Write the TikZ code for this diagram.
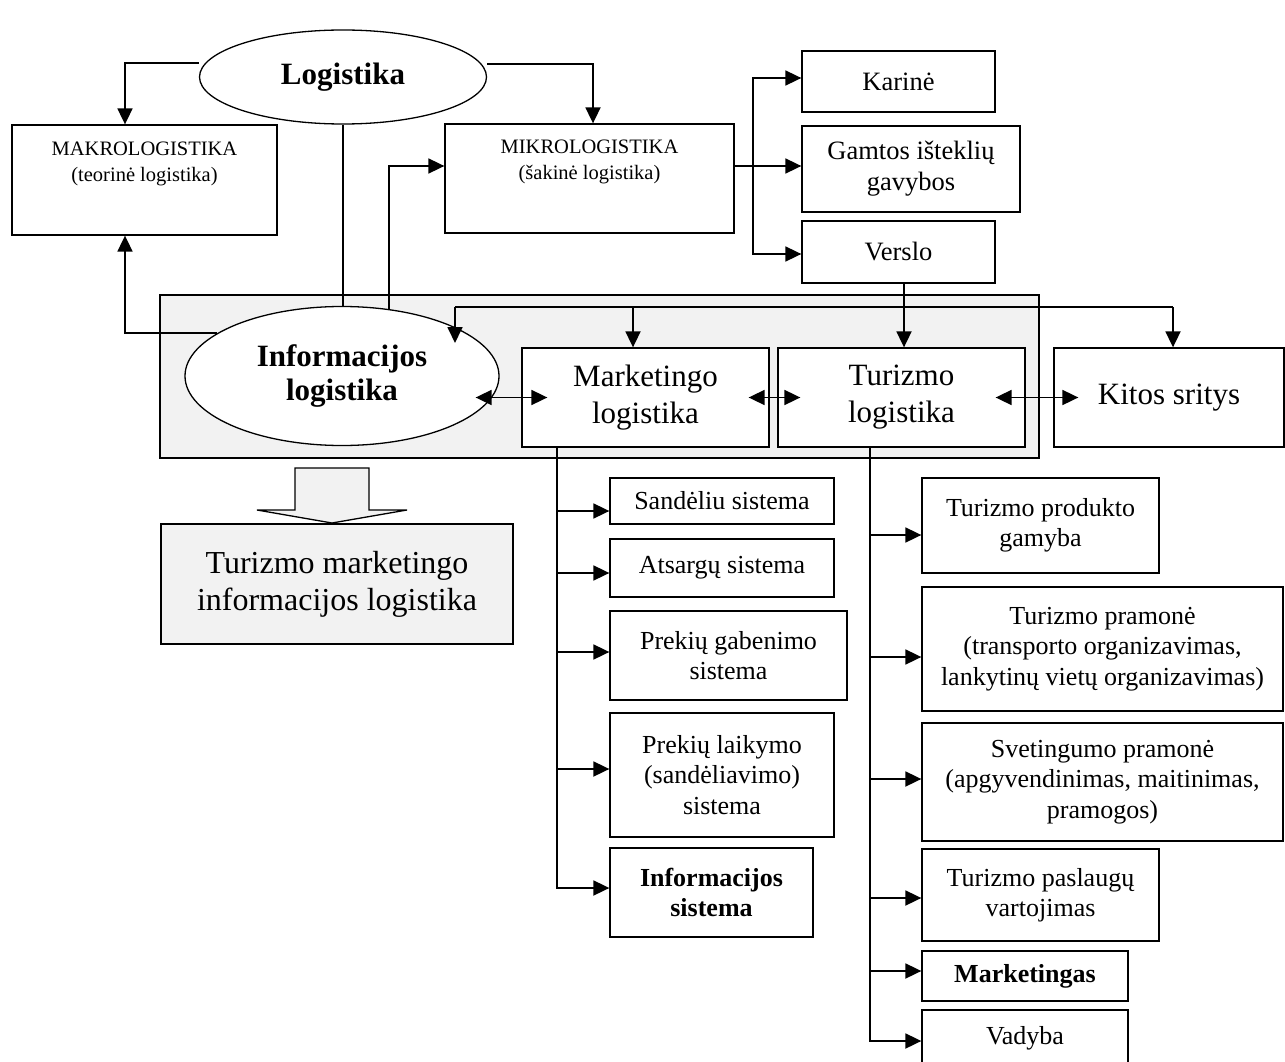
\documentclass[tikz,border=0pt]{standalone}
\usepackage{fontspec}
\setmainfont{Liberation Serif}
\usetikzlibrary{arrows.meta,shapes.geometric,calc}
\begin{document}
\begin{tikzpicture}[x=1pt,y=-1pt,
  box/.style={draw,line width=1.3pt,fill=white,inner sep=0pt,align=center},
  oval/.style={draw,ellipse,line width=1.3pt,fill=white,inner sep=0pt,align=center},
  conn/.style={line width=1.8pt},
  arr/.style={conn,-{Triangle[length=16pt,width=15pt]}},
  darr/.style={conn,{Triangle[length=16pt,width=15pt]}-{Triangle[length=16pt,width=15pt]}},
  fbig/.style={font=\fontsize{31}{37}\selectfont},
  fbigb/.style={font=\fontsize{31}{34}\selectfont\bfseries},
  fmid/.style={font=\fontsize{26}{30.5}\selectfont},
  fmidb/.style={font=\fontsize{26}{30.5}\selectfont\bfseries},
  fsmall/.style={font=\fontsize{20.5}{26}\selectfont},
  shade/.style={fill=gray!10}
]
\useasboundingbox (0,0) rectangle (1285,1062);

% grey panel holding the logistics areas
\node[draw,shade,line width=1.5pt,inner sep=0pt,minimum width=879pt,minimum height=163pt] (panel) at (599.5,376.5) {};

% upper level
\node[oval,fbigb,minimum width=287pt,minimum height=94pt] (logi) at (343,77) {Logistika};
\node[box,fsmall,minimum width=265pt,minimum height=110pt] (makro) at (144.5,180)
  {\parbox[c][100pt][t]{255pt}{\vspace*{12pt}\centering MAKROLOGISTIKA\\(teorinė logistika)}};
\node[box,fsmall,minimum width=289pt,minimum height=109pt] (mikro) at (589.5,178.5)
  {\parbox[c][99pt][t]{279pt}{\vspace*{11pt}\centering MIKROLOGISTIKA\\(šakinė logistika)}};
\node[box,font=\fontsize{26.5}{31}\selectfont,minimum width=193pt,minimum height=61pt] (karine) at (898.5,81.5) {Karinė};
\node[box,font=\fontsize{26.5}{31}\selectfont,minimum width=218pt,minimum height=86pt] (gamtos) at (911,169) {Gamtos išteklių\\gavybos};
\node[box,font=\fontsize{26.5}{31}\selectfont,minimum width=193pt,minimum height=62pt] (verslo) at (898.5,252) {Verslo};

% logistics areas
\node[oval,fbigb,minimum width=314pt,minimum height=139pt] (info) at (342,376) {Informacijos\\logistika};
\node[box,fbig,minimum width=247pt,minimum height=99pt] (marketingo) at (645.5,397.5) {Marketingo\\logistika};
\node[box,fbig,minimum width=247pt,minimum height=99pt] (turizmo) at (901.5,397.5) {Turizmo\\logistika};
\node[box,fbig,minimum width=230pt,minimum height=99pt] (kitos) at (1169,397.5) {Kitos sritys};

% hollow block arrow and result
\draw[line width=1.3pt,shade] (295,468) -- (369,468) -- (369,510) -- (407,510) -- (332,523)
  -- (257,510) -- (295,510) -- cycle;
\node[box,shade,font=\fontsize{32}{37}\selectfont,minimum width=352pt,minimum height=120pt] (tmil) at (337,584)
  {Turizmo marketingo\\informacijos logistika};

% marketing subsystems
\node[box,fmid,minimum width=224pt,minimum height=46pt] (sand) at (722,501) {Sandėliu sistema};
\node[box,fmid,minimum width=224pt,minimum height=58pt] (ats) at (722,568) {Atsargų sistema};
\node[box,fmid,minimum width=237pt,minimum height=89pt] (preg) at (728.5,655.5) {Prekių gabenimo\\sistema};
\node[box,fmid,minimum width=224pt,minimum height=124pt] (prel) at (722,775) {Prekių laikymo\\(sandėliavimo)\\sistema};
\node[box,fmidb,minimum width=203pt,minimum height=89pt] (infs) at (711.5,892.5) {Informacijos\\sistema};

% tourism subsystems
\node[box,fmid,minimum width=237pt,minimum height=95pt] (tpg) at (1040.5,525.5) {Turizmo produkto\\gamyba};
\node[box,fmid,minimum width=361pt,minimum height=124pt] (tpr) at (1102.5,649) {Turizmo pramonė\\(transporto organizavimas,\\lankytinų vietų organizavimas)};
\node[box,fmid,minimum width=361pt,minimum height=118pt] (svet) at (1102.5,782) {Svetingumo pramonė\\(apgyvendinimas, maitinimas,\\pramogos)};
\node[box,fmid,minimum width=237pt,minimum height=92pt] (tpv) at (1040.5,895) {Turizmo paslaugų\\vartojimas};
\node[box,fmidb,minimum width=206pt,minimum height=50pt] (mark) at (1025,976) {Marketingas};
\node[box,fmid,minimum width=206pt,minimum height=56pt] (vad) at (1025,1038) {Vadyba};

% connectors of the upper level
\draw[arr] ([yshift=14pt]logi.west) -| ([xshift=-19.5pt]makro.north);
\draw[arr] ([yshift=13pt]logi.east) -| ([xshift=3.5pt]mikro.north);
\draw[conn] (logi.south) -- (logi.south |- info.north);
\draw[arr] (info.161) -| ([xshift=-19.5pt]makro.south);
\draw[arr] (info.55) |- ([yshift=12.5pt]mikro.west);

\coordinate (fan) at (753,166);
\draw[conn] ([yshift=12.5pt]mikro.east) -- (fan);
\draw[arr] (fan) -- (fan -| gamtos.west);
\draw[arr] (fan) |- ([yshift=3.5pt]karine.west);
\draw[arr] (fan) |- ([yshift=-2pt]verslo.west);

% distribution line over the areas
\coordinate (busL) at (455,307);
\coordinate (busM) at (633,307);
\coordinate (busV) at (904,307);
\coordinate (busR) at (1173,307);
\draw[conn] (busL) -- (busR);
\draw[arr] (verslo.south -| busV) -- (turizmo.north -| busV);
\draw[arr] (busL) -- ++(0,36);
\draw[arr] (busM) -- (busM |- marketingo.north);
\draw[arr] (busR) -- (busR |- kitos.north);

% links between the areas
\draw[darr,shorten <=-24pt,shorten >=-26pt] (info.east |- marketingo.west) -- (marketingo.west);
\draw[darr,shorten <=-21pt,shorten >=-23pt] (marketingo.east) -- (turizmo.west);
\draw[darr,shorten <=-30pt,shorten >=-25pt] (turizmo.east) -- (kitos.west);

% marketing branch
\coordinate (mtop) at ([xshift=-88.5pt]marketingo.south);
\coordinate (m1) at ([yshift=-10pt]sand.west);
\coordinate (m2) at ([yshift=-5pt]ats.west);
\coordinate (m3) at ([yshift=3.5pt]preg.west);
\coordinate (m4) at ([yshift=6pt]prel.west);
\coordinate (m5) at ([yshift=4.5pt]infs.west);
\draw[arr] (mtop) |- (m5);
\foreach \t in {m1,m2,m3,m4} \draw[arr] (mtop |- \t) -- (\t);

% tourism branch
\coordinate (ttop) at ([xshift=-31.5pt]turizmo.south);
\coordinate (t1) at ([yshift=-9.5pt]tpg.west);
\coordinate (t2) at ([yshift=-8pt]tpr.west);
\coordinate (t3) at ([yshift=3pt]svet.west);
\coordinate (t4) at ([yshift=-3pt]tpv.west);
\coordinate (t5) at ([yshift=5pt]mark.west);
\coordinate (t6) at ([yshift=-3pt]vad.west);
\draw[arr] (ttop) |- (t6);
\foreach \t in {t1,t2,t3,t4,t5} \draw[arr] (ttop |- \t) -- (\t);
\end{tikzpicture}
\end{document}
